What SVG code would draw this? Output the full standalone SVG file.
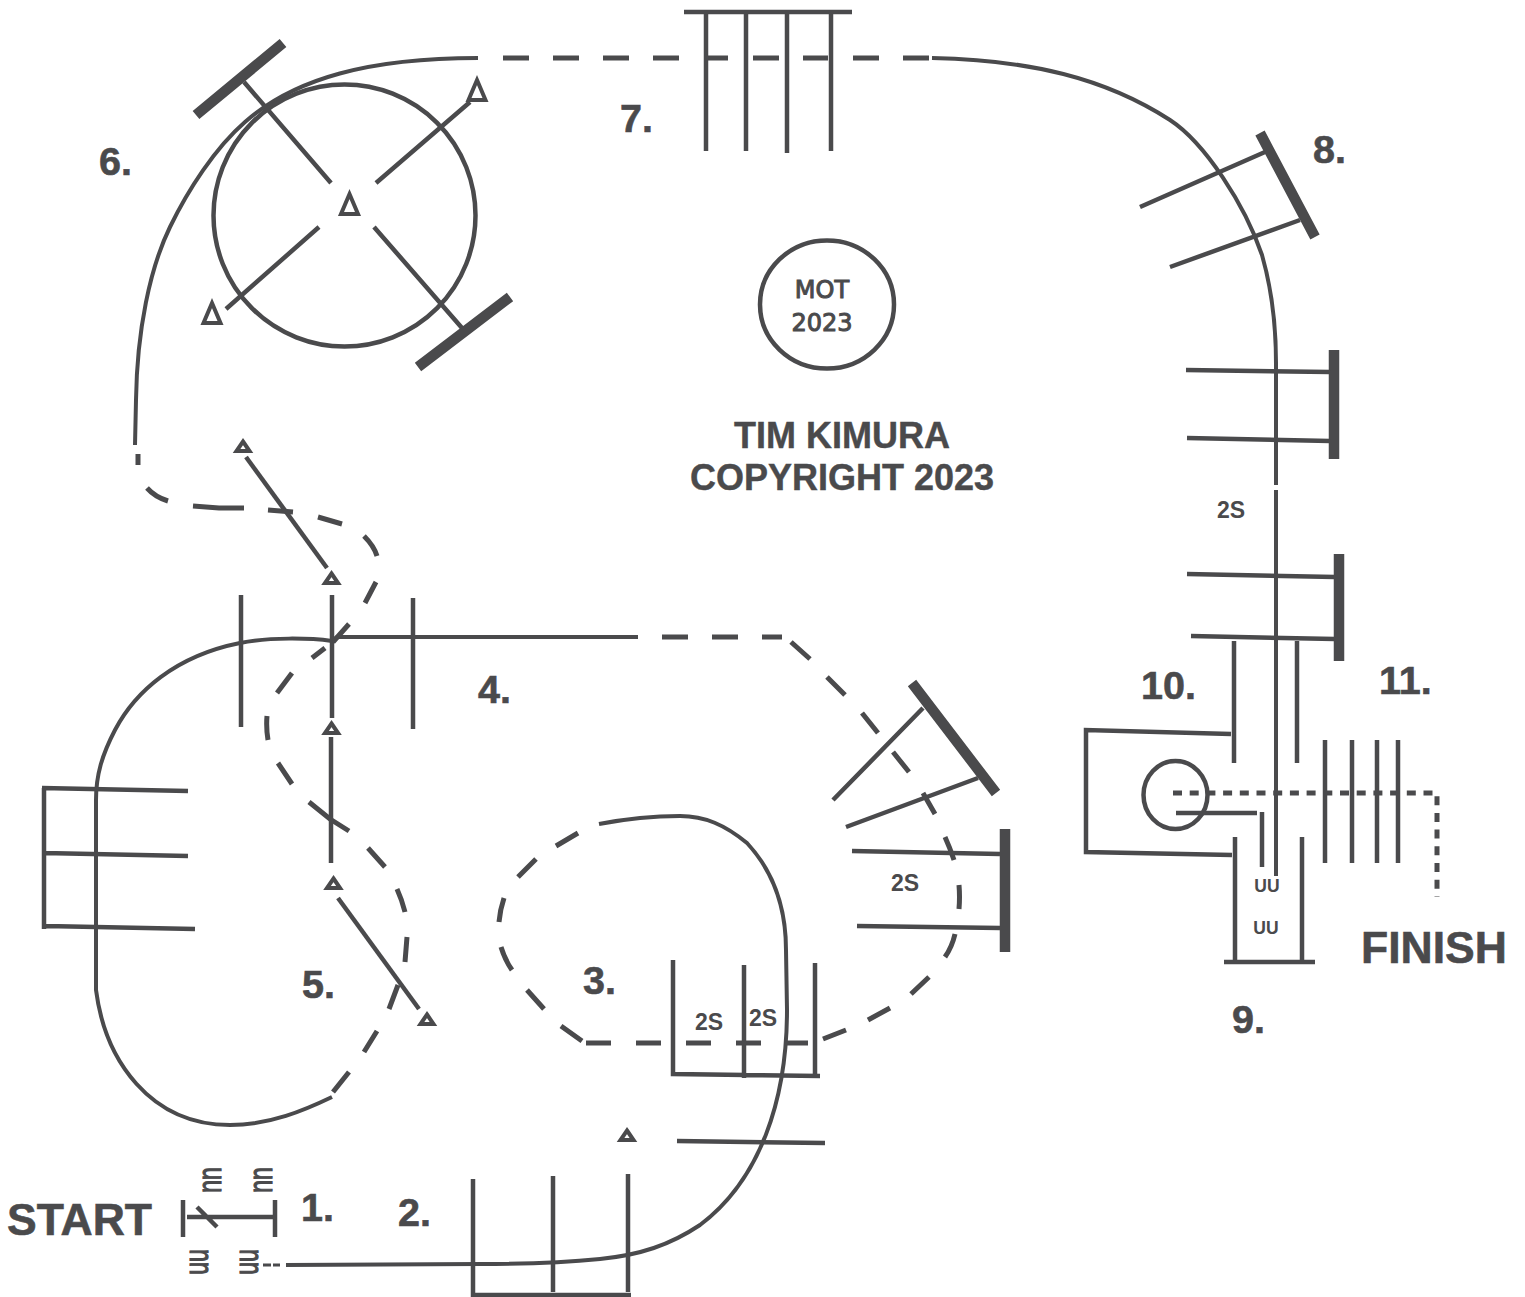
<svg xmlns="http://www.w3.org/2000/svg" width="1525" height="1297" viewBox="0 0 1525 1297">
<style>
.l{fill:none;stroke:#4a4a4c;stroke-width:4.5}
.t{fill:none;stroke:#4a4a4c;stroke-width:4}
.d{fill:none;stroke:#4a4a4c;stroke-width:5}
.f{fill:none;stroke:#4a4a4c;stroke-width:5;stroke-dasharray:9 7.7}
.b{fill:none;stroke:#4a4a4c;stroke-width:10.5}
.c{fill:none;stroke:#4a4a4c;stroke-width:4.5}
.a{fill:none;stroke:#4a4a4c;stroke-width:4;stroke-miterlimit:10}
text{font-family:"Liberation Sans",Arial,sans-serif;font-weight:bold;fill:#4a4a4c}
.n{font-size:39.500px;stroke:#4a4a4c;stroke-width:.6}
.w{font-size:44.500px;stroke:#4a4a4c;stroke-width:.6}
.s{font-size:23px}
.u{font-size:23px;font-weight:normal;stroke:#4a4a4c;stroke-width:.8}
.v{font-size:17.5px}
.m{font-family:"DejaVu Sans",sans-serif;font-weight:normal;font-size:24px;stroke:#4a4a4c;stroke-width:1}
.o{font-size:36px;stroke:#4a4a4c;stroke-width:.4}
</style>
<rect width="1525" height="1297" fill="#fff"/>
<g id="connectors">
<path class="t" d="M286 1265L480 1264C520 1264 560 1263 600 1259C640 1255 670 1245 700 1225C760 1180 787 1100 787 1010L786 950C786 905 772 870 747 843C725 825 705 816 680 816C650 816 625 819 599 824"/>
<path class="d" d="M578 833L556 846M536 859L518 877M504 898Q500 910 499 922M501 947Q505 960 512 970M527 990L544 1009M561 1026L582 1041M586 1043H611M636 1043H661M686 1043H711M736 1043H761M786 1043H808M823 1039L846 1030M868 1020L890 1008M911 994L929 977M945 957Q952 947 955 934M959 909Q960 897 959 885M954 860Q950 848 945 837M935 814L923 793M909 772L893 752M878 733L862 713M845 695L827 677M810 659L791 642M782 637H762M738 637H712M688 637H662"/>
<path class="t" d="M638 637L337 637L332 641C310 638 270 637 240 643C175 656 135 692 115 730C102 755 96 775 96 800L96 990C105 1060 150 1125 230 1125C270 1125 305 1110 332 1097"/>
<path class="d" d="M333 1092L349 1072M364 1052L377 1031M389 1009L398 985M405 962L407 937M405 912Q402 900 397 889M385 867L368 848M349 831L330 819L309 802M292 784L278 763M268 740Q266 728 267 716M277 693L292 673M312 658L325 648M333 642L349 624M365 603L376 582M377 556Q374 546 364 536M342 524L318 517M293 512L268 510M244 508H219L193 506M168 501Q155 497 147 488M138 465L138 454"/>
<path class="t" d="M135 445L136 400C137 330 150 268 170 227C188 190 215 148 245 122C295 78 370 58 478 58"/>
<path class="d" d="M503 58H529M553 58H579M603 58H629M653 58H679M704 58H728M753 58H779M803 58H828M853 58H879M903 58H929"/>
<path class="t" d="M932 58C1030 60 1105 78 1170 120C1205 143 1245 205 1262 255C1272 290 1276 330 1276 363L1276 485M1276 490L1276 876"/>
<path class="l" d="M1262 812L1262 867"/>
<path class="f" d="M1173 793L1437 793L1437 897"/>
<path d="M263 1265H271M273 1265H280" fill="none" stroke="#4a4a4c" stroke-width="3"/>
</g>
<g id="start"><text class="w" x="7" y="1235">START</text></g>
<g id="gate-1">
<path class="l" d="M183 1200L183 1237M275 1200L275 1237M187 1217L273 1217M197 1207L217 1227"/>
<text class="u" transform="translate(203,1180) rotate(90) scale(1,1.42)" text-anchor="middle">uu</text>
<text class="u" transform="translate(254,1180) rotate(90) scale(1,1.42)" text-anchor="middle">uu</text>
<text class="u" transform="translate(208,1262) rotate(-90) scale(1,1.42)" text-anchor="middle">uu</text>
<text class="u" transform="translate(258,1262) rotate(-90) scale(1,1.42)" text-anchor="middle">uu</text>
<text class="n" x="301" y="1221">1.</text>
</g>
<g id="gate-2">
<path class="l" d="M473 1179L473 1295L631 1295M553 1176L553 1292M628 1174L628 1292"/>
<text class="n" x="398" y="1226">2.</text>
</g>
<g id="gate-3">
<path class="l" d="M673 960L673 1074L820 1076M744 965L744 1078M815 963L815 1077"/>
<text class="s" x="695" y="1030">2S</text>
<text class="s" x="749" y="1026">2S</text>
<text class="n" x="583" y="994">3.</text>
<path class="a" d="M627 1130.500L633.500 1140L620.500 1140Z"/>
<path class="l" d="M677 1141L825 1143"/>
</g>
<g id="gate-4">
<path class="b" d="M912 683L996 793M1005 829L1005 952"/>
<path class="l" d="M833 800L923 708M846 827L978 778M852 851L1000 854M857 926L1000 928"/>
<text class="s" x="891" y="891">2S</text>
<path class="l" d="M241 595L241 727M332 595L332 718M413 598L413 729"/>
<text class="n" x="478" y="703">4.</text>
</g>
<g id="gate-4b">
<path class="l" d="M44 788L44 929M42 788L188 791M44 853L188 856M46 926L195 929"/>
</g>
<g id="gate-5">
<path class="a" d="M331.500 723.500L338 733L325 733Z"/>
<path class="l" d="M331 737L331 863"/>
<path class="a" d="M333.500 878.500L340 888L327 888Z"/>
<path class="l" d="M338 898L419 1009"/>
<path class="a" d="M427 1014.500L433.500 1024L420.500 1024Z"/>
<path class="a" d="M331.500 573.500L338 583L325 583Z"/>
<path class="l" d="M327 568L246 457"/>
<path class="a" d="M243 441.500L249.500 451L236.500 451Z"/>
<text class="n" x="99" y="175">6.</text>
<text class="n" x="302" y="998">5.</text>
</g>
<g id="gate-6">
<circle class="c" cx="344.500" cy="215.500" r="131"/>
<path class="b" d="M196 115L283 43M418 367L510 297"/>
<path class="l" d="M244 82L331 183M374 227L462 328M376 183L470 102M319 227L226 309"/>
<path class="a" d="M477 80L485.500 100L468.500 100Z"/>
<path class="a" d="M349.500 194L358 214L341 214Z"/>
<path class="a" d="M212 303L220.500 323L203.500 323Z"/>
</g>
<g id="gate-7">
<path class="l" d="M684 12L852 12M706 12L706 151M746 12L746 151M787 12L787 153M831 12L831 151"/>
<text class="n" x="620" y="132">7.</text>
</g>
<g id="mot">
<ellipse class="c" cx="827" cy="304.500" rx="67" ry="64"/>
<text x="822" y="298" text-anchor="middle" class="m">MOT</text>
<text x="822" y="331" text-anchor="middle" class="m">2023</text>
</g>
<g id="copyright">
<text x="842" y="448" text-anchor="middle" class="o">TIM KIMURA</text>
<text x="842" y="490" text-anchor="middle" class="o">COPYRIGHT 2023</text>
</g>
<g id="gate-8">
<path class="b" d="M1260 133L1315 237M1334 350L1334 459M1339 554L1339 661"/>
<path class="l" d="M1140 207L1265 152M1170 267L1300 220M1186 370L1330 372M1187 438L1330 441M1187 574L1335 577M1191 636L1335 639"/>
<text class="s" x="1217" y="518">2S</text>
<text class="n" x="1313" y="163">8.</text>
</g>
<g id="gate-9">
<path class="l" d="M1235 837L1235 962M1302 837L1302 962M1224 962L1315 962"/>
<text class="v" x="1267" y="892" text-anchor="middle">UU</text>
<text class="v" x="1266" y="934" text-anchor="middle">UU</text>
<text class="n" x="1232" y="1033">9.</text>
</g>
<g id="gate-10">
<path class="l" d="M1234 641L1234 763M1297 641L1297 763M1231 734L1086 730L1086 852L1232 855"/>
<ellipse class="c" cx="1175.500" cy="795" rx="32" ry="34"/>
<path class="l" d="M1176 813L1257 813"/>
<text class="n" x="1141" y="699">10.</text>
</g>
<g id="gate-11">
<path class="l" d="M1325 740L1325 863M1352 740L1352 863M1377 740L1377 863M1398 740L1398 863"/>
<text class="n" x="1379" y="694">11.</text>
</g>
<g id="finish"><text class="w" x="1361" y="963">FINISH</text></g>
</svg>
